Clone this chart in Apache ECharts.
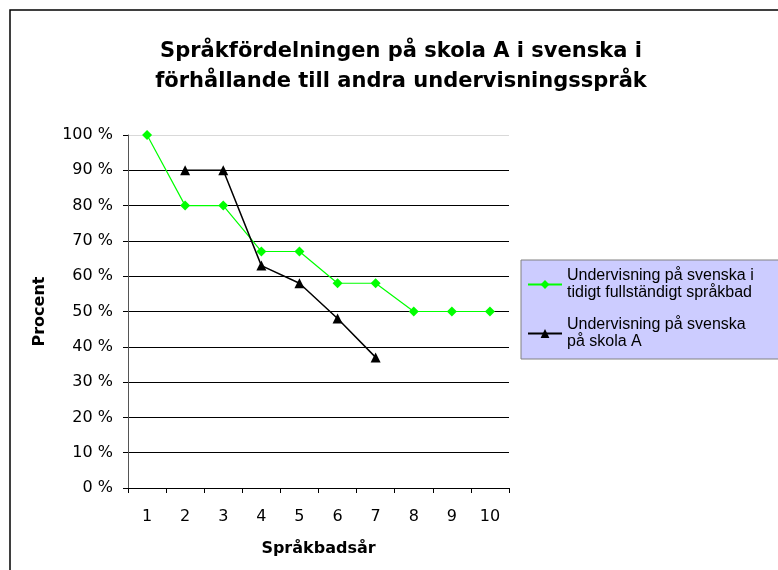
<!DOCTYPE html>
<html>
<head>
<meta charset="utf-8">
<script src="https://cdn.jsdelivr.net/npm/echarts@6/dist/echarts.min.js"></script>
<style>
html, body { margin: 0; padding: 0; background: #fff; }
#chart { width: 778px; height: 570px; }
</style>
</head>
<body>
<div id="chart"></div>
<script>
// data
const years = ['1', '2', '3', '4', '5', '6', '7', '8', '9', '10']
const tidigtBad = [100, 80, 80, 67, 67, 58, 58, 50, 50, 50]
const skolaA = ['-', 90, 90, 63, 58, 48, 37, '-', '-', '-']
const titleText = 'Språkfördelningen på skola A i svenska i\nförhållande till andra undervisningsspråk'
const nameTidigt = 'Undervisning på svenska i\ntidigt fullständigt språkbad'
const nameSkola = 'Undervisning på svenska\npå skola A'

const myChart = echarts.init(document.getElementById('chart'))
const option = {
    animation: false,
    backgroundColor: '#fff',
    title: {
        text: titleText,
        left: 396,
        top: 32,
        textAlign: 'center',
        textStyle: {
            fontFamily: 'DejaVu Sans',
            fontWeight: 'bold',
            fontSize: 21,
            lineHeight: 30,
            color: '#000'
        }
    },
    graphic: [
        { // outer chart frame
            type: 'rect',
            shape: { x: 10, y: 10, width: 800, height: 600 },
            style: { fill: null, stroke: '#000', lineWidth: 1.5 },
            silent: true,
            z: -1
        }
    ],
    legend: {
        orient: 'vertical',
        left: 521,
        top: 260,
        padding: [8, 40, 9, 6],
        itemWidth: 34,
        itemHeight: 11,
        itemGap: 16,
        backgroundColor: '#ccccff',
        borderColor: '#808080',
        borderWidth: 1,
        textStyle: {
            fontFamily: 'Liberation Sans',
            fontSize: 16,
            lineHeight: 17,
            height: 17, // keeps the marker on the first text line
            color: '#000'
        },
        data: [nameTidigt, nameSkola]
    },
    grid: {
        left: 128,
        right: 269,
        top: 135,
        bottom: 82
    },
    xAxis: {
        type: 'category',
        data: years,
        boundaryGap: true,
        name: 'Språkbadsår',
        nameLocation: 'middle',
        nameGap: 53,
        nameTextStyle: {
            fontFamily: 'DejaVu Sans',
            fontWeight: 'bold',
            fontSize: 16,
            color: '#000'
        },
        axisLine: { lineStyle: { color: '#000', width: 1 } },
        axisTick: { show: true, length: 5, alignWithLabel: false, lineStyle: { color: '#000' } },
        axisLabel: {
            margin: 21,
            fontFamily: 'DejaVu Sans',
            fontSize: 16,
            color: '#000'
        },
        splitLine: { show: false }
    },
    yAxis: {
        type: 'value',
        min: 0,
        max: 100,
        interval: 10,
        name: 'Procent',
        nameLocation: 'middle',
        nameGap: 80,
        nameTextStyle: {
            fontFamily: 'DejaVu Sans',
            fontWeight: 'bold',
            fontSize: 16,
            color: '#000'
        },
        axisLine: { show: true, lineStyle: { color: '#555', width: 1 } },
        axisTick: { show: true, length: 5, lineStyle: { color: '#000' } },
        axisLabel: {
            formatter: '{value} %',
            margin: 15,
            fontFamily: 'DejaVu Sans',
            fontSize: 16,
            color: '#000'
        },
        splitLine: {
            show: true,
            lineStyle: {
                // top line (100 %) is a light border in the original
                color: ['#000', '#000', '#000', '#000', '#000', '#000', '#000', '#000', '#000', '#000', '#d9d9d9'],
                width: 1
            }
        }
    },
    series: [
        {
            name: nameTidigt,
            type: 'line',
            data: tidigtBad,
            symbol: 'diamond',
            symbolSize: 10,
            itemStyle: { color: '#00ff00' },
            lineStyle: { color: '#00ff00', width: 1.2 }
        },
        {
            name: nameSkola,
            type: 'line',
            data: skolaA,
            symbol: 'triangle',
            symbolSize: 10,
            itemStyle: { color: '#000' },
            lineStyle: { color: '#000', width: 1.5 }
        }
    ]
}
myChart.setOption(option)
window.onresize = myChart.resize
</script>
</body>
</html>
